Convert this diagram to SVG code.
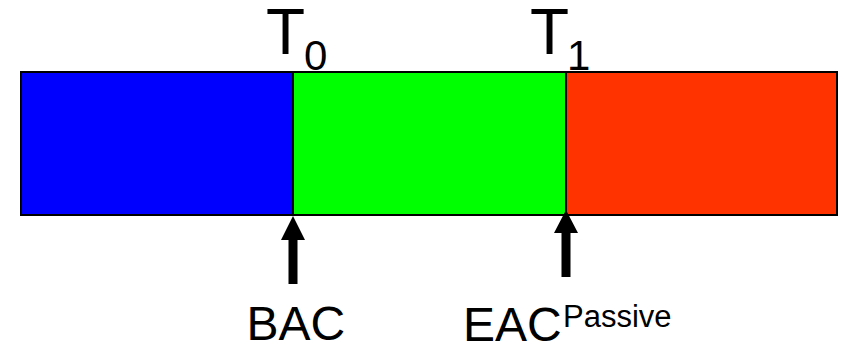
<svg xmlns="http://www.w3.org/2000/svg" width="844" height="345" viewBox="0 0 844 345">
<style>
.seg{stroke:#000;stroke-width:2}
.lbl{font-family:"Liberation Sans",Arial,sans-serif;fill:#000}
.arr{fill:#000}
</style>
<rect width="844" height="345" fill="#fff"/>
<g id="seg-before">
<rect class="seg" x="21" y="72" width="272" height="143" fill="#0000FF"/>
</g>
<g id="seg-active">
<rect class="seg" x="293" y="72" width="273" height="143" fill="#00FF00"/>
</g>
<g id="seg-after">
<rect class="seg" x="566" y="72" width="271" height="143" fill="#FF3300"/>
</g>
<g id="label-T0">
<text class="lbl" x="266" y="54" font-size="64">T</text>
<text class="lbl" x="304" y="70" font-size="42">0</text>
</g>
<g id="label-T1">
<text class="lbl" x="530" y="54" font-size="64">T</text>
<text class="lbl" x="567" y="70" font-size="42">1</text>
</g>
<g id="connectors">
<polygon class="arr" points="293,216 281,240 288.5,240 288.5,284 297.5,284 297.5,240 305,240"/>
<polygon class="arr" points="566,210 554,233 561.5,233 561.5,277 570.5,277 570.5,233 578,233"/>
</g>
<g id="label-BAC">
<text class="lbl" x="246.5" y="340" font-size="48">BAC</text>
</g>
<g id="label-EAC">
<text class="lbl" x="463" y="341" font-size="48">EAC</text>
<text class="lbl" x="563" y="327" font-size="31">Passive</text>
</g>
</svg>
